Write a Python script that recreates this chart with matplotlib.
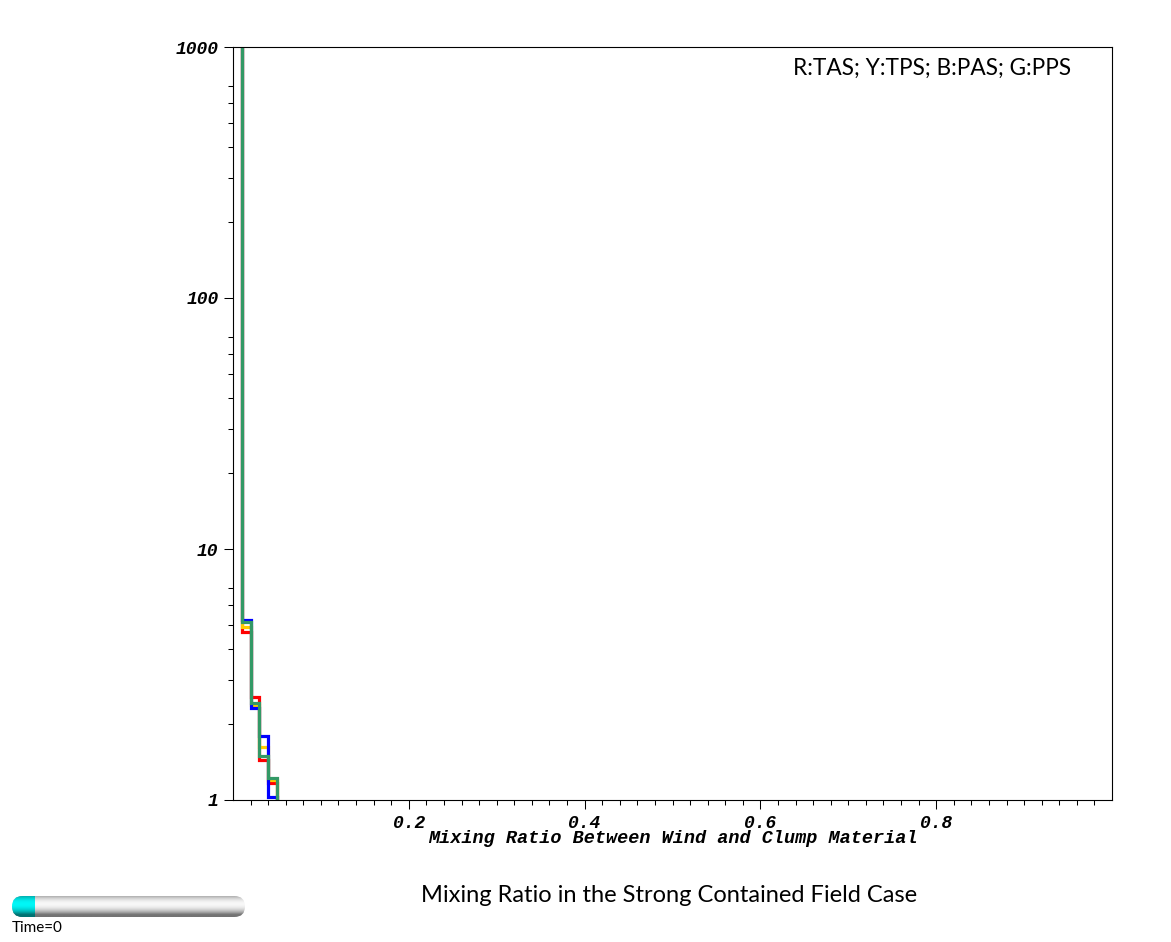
import numpy as np
import matplotlib.pyplot as plt
from matplotlib.patches import FancyBboxPatch
from matplotlib.ticker import FixedLocator, NullFormatter

# histogram of mixing ratio, bins of 0.01 (first bin runs off the top)
edges = [0.0, 0.01, 0.02, 0.03, 0.04, 0.05, 0.06]
tas = [5000, 4.68, 2.58, 1.44, 1.17, 0]   # red
tps = [5000, 4.88, 2.39, 1.62, 1.20, 0]   # yellow
pas = [5000, 5.21, 2.32, 1.80, 1.03, 0]   # blue
pps = [5000, 5.10, 2.43, 1.50, 1.22, 0]   # green

series = [(tas, "#ff0000"), (tps, "#ffcc00"), (pas, "#0000ff"), (pps, "#339966")]

xmajor = [0.2, 0.4, 0.6, 0.8]
xminor = np.arange(0.02, 0.99, 0.02)
ymajor = [1, 10, 100, 1000]
yminor = [m * d for d in (1, 10, 100) for m in range(2, 8)]

tickfont = dict(family="Liberation Mono", weight="bold", style="italic", size=13)

fig = plt.figure(figsize=(11.71, 9.42), dpi=100)
ax = fig.add_axes([233 / 1171, 142 / 942, 879 / 1171, 753 / 942])

for vals, col in series:
    v = np.array(vals, dtype=float)
    v = np.where(v > 0, v, 0.01)
    ax.stairs(v, edges, baseline=None, color=col, linewidth=2.3)

ax.set_yscale("log")
ax.set_xlim(0, 1)
ax.set_ylim(1, 1000)

ax.xaxis.set_major_locator(FixedLocator(xmajor))
ax.xaxis.set_minor_locator(FixedLocator(xminor))
ax.yaxis.set_major_locator(FixedLocator(ymajor))
ax.yaxis.set_minor_locator(FixedLocator(yminor))
ax.yaxis.set_minor_formatter(NullFormatter())
ax.set_xticklabels([f"{t:.1f}" for t in xmajor], fontdict=tickfont)
ax.set_yticklabels([str(t) for t in ymajor], fontdict=tickfont)
ax.tick_params(which="major", length=6.5, width=0.75, pad=4)
ax.tick_params(which="minor", length=3.6, width=0.75)
for s in ax.spines.values():
    s.set_linewidth(0.8)

ax.set_xlabel("Mixing Ratio Between Wind and Clump Material",
              fontdict=dict(tickfont, size=13.3), labelpad=-1)

ax.text(0.953, 0.972, "R:TAS; Y:TPS; B:PAS; G:PPS", transform=ax.transAxes,
        ha="right", va="center", fontsize=16.3, family="Lato")

fig.text(669 / 1171, 1 - 896 / 942, "Mixing Ratio in the Strong Contained Field Case",
         ha="center", va="center", fontsize=17, family="Lato")

# time slider widget
sax = fig.add_axes([12 / 1171, 25 / 942, 233 / 1171, 21 / 942])
sax.axis("off")
prof = np.linspace(-1, 1, 50)
grad = 0.97 - np.abs(prof + 0.25) ** 2 * 0.5
grad = np.clip(grad, 0.45, 1)
grad = np.tile(grad[:, None], (1, 10))
img = sax.imshow(grad, cmap="gray", vmin=0, vmax=1, extent=[0, 233, 0, 21], aspect="auto")
shape = FancyBboxPatch((0, 0), 233, 21, boxstyle="round,pad=0,rounding_size=10.5",
                       transform=sax.transData, fc="none", ec="none")
sax.add_patch(shape)
img.set_clip_path(shape)
cyan = np.zeros((50, 10, 3))
cyan[..., 1] = grad[:, :1]
cyan[..., 2] = grad[:, :1]
img2 = sax.imshow(cyan, extent=[0, 23, 0, 21], aspect="auto")
cap = FancyBboxPatch((0, 0), 40, 21, boxstyle="round,pad=0,rounding_size=10.5",
                     transform=sax.transData, fc="none", ec="none")
sax.add_patch(cap)
img2.set_clip_path(cap)
sax.set_xlim(0, 233)
sax.set_ylim(0, 21)

fig.text(12 / 1171, 1 - 928 / 942, "Time=0", ha="left", va="center", fontsize=11, family="Lato")

fig.savefig("out.png", dpi=100)
